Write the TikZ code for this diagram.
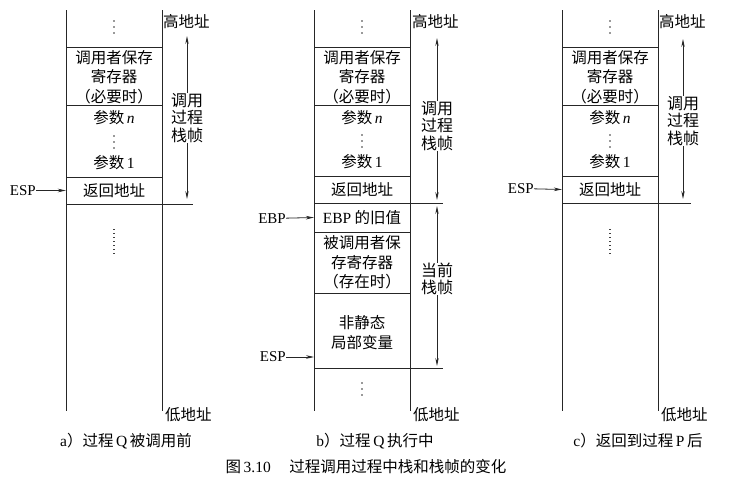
\documentclass[tikz,border=0pt]{standalone}
\usepackage{fontspec}
\setmainfont{Liberation Serif}
\newfontfamily\cjk{Noto Sans CJK SC}
\usetikzlibrary{arrows.meta}
\begin{document}
\begin{tikzpicture}[x=1pt,y=-1pt,
  stk/.style={line width=0.8pt, draw=black!85},
  cell/.style={minimum width=96pt, minimum height=#1, inner sep=0pt, align=center,
    font=\fontsize{15.5}{19.5}\selectfont\cjk},
  ctext/.style={inner sep=0pt, align=center, font=\fontsize{15.5}{19.5}\selectfont\cjk},
  side/.style={inner sep=0pt, align=center, font=\fontsize{16}{17.5}\selectfont\cjk},
  addr/.style={inner sep=0pt, anchor=west, font=\fontsize{15.5}{17}\selectfont\cjk},
  reg/.style={inner sep=0pt, font=\fontsize{15}{17}\selectfont},
  ptr/.style={line width=0.8pt, draw=black!85, -{Stealth[length=8pt,width=3.6pt]}},
  farrow/.style={line width=0.8pt, draw=black!85, -{Stealth[length=8pt,width=3.4pt]}},
  captxt/.style={inner sep=0pt, font=\fontsize{15.5}{17}\selectfont},
  dotcol/.style={line width=1.2pt, draw=black!75, dash pattern=on 1pt off 3pt},
  dt/.style={fill=black!80},
]
\useasboundingbox (0,0) rectangle (729,501);

% ================= panel a =================
\draw[stk] (66,10) -- (66,411);
\draw[stk] (162,10) -- (162,411);
\draw[stk] (66,47) -- (162,47);
\draw[stk] (66,105) -- (162,105);
\draw[stk] (66,177) -- (162,177);
\draw[stk] (66,204) -- (193,204);
\foreach \yy in {21,27,33} \fill[dt] (114,\yy) circle (0.9);
\node[ctext] (savA) at (114,77) {调用者保存\\寄存器\\（必要时）};
\node[ctext] (pnA) at (114,118) {参数\,{\rmfamily\itshape n}};
\foreach \yy in {136,142,148} \fill[dt] (114,\yy) circle (0.9);
\node[ctext] (p1A) at (114,163) {参数\,\textrm{1}};
\node[cell=27pt] (retA) at (114,190.5) {返回地址};
\draw[dotcol] (114,229) -- (114,254);
\node[reg, anchor=east] (espA) at (36,190.5) {ESP};
\draw[ptr] (espA) -- (retA.west);
\node[addr] (hiA) at (163,22) {高地址};
\node[addr] (loA) at (165,415) {低地址};
\node[side] (frA) at (187,118) {调用\\过程\\栈帧};
\coordinate (frAt) at (187,36);
\coordinate (frAb) at (187,199);
\draw[farrow] (frA.north) -- (frAt);
\draw[farrow] (frA.south) -- (frAb);
\node[captxt] (capA) at (126,441) {a{\cjk ）过程}\,Q\,{\cjk 被调用前}};

% ================= panel b =================
\draw[stk] (314,10) -- (314,411);
\draw[stk] (410,10) -- (410,411);
\draw[stk] (314,47) -- (410,47);
\draw[stk] (314,105) -- (410,105);
\draw[stk] (314,176) -- (410,176);
\draw[stk] (314,203) -- (443,203);
\draw[stk] (314,232) -- (410,232);
\draw[stk] (314,293) -- (410,293);
\draw[stk] (314,368) -- (443,368);
\foreach \yy in {21,27,33} \fill[dt] (362,\yy) circle (0.9);
\node[ctext] (savB) at (362,77) {调用者保存\\寄存器\\（必要时）};
\node[ctext] (pnB) at (362,118) {参数\,{\rmfamily\itshape n}};
\foreach \yy in {135,141,147} \fill[dt] (362,\yy) circle (0.9);
\node[ctext] (p1B) at (362,162) {参数\,\textrm{1}};
\node[cell=27pt] (retB) at (362,189.5) {返回地址};
\node[cell=29pt] (ebpB) at (362,217.5) {\textrm{EBP}~的旧值};
\node[ctext] (calB) at (362,262.5) {被调用者保\\存寄存器\\（存在时）};
\node[ctext] (locB) at (362,332.5) {非静态\\局部变量};
\foreach \yy in {383,389,395} \fill[dt] (362,\yy) circle (0.9);
\node[reg, anchor=east] (ebpL) at (286,218.5) {EBP};
\draw[ptr] (ebpL) -- (ebpB.west);
\node[reg, anchor=east] (espB) at (286,357) {ESP};
\coordinate (espBt) at (314,357);
\draw[ptr] (espB) -- (espBt);
\node[addr] (hiB) at (412,22) {高地址};
\node[addr] (loB) at (413,415) {低地址};
\node[side] (frB) at (437,126) {调用\\过程\\栈帧};
\coordinate (frBt) at (437,38);
\coordinate (frBb) at (437,200);
\draw[farrow] (frB.north) -- (frBt);
\draw[farrow] (frB.south) -- (frBb);
\node[side] (cfB) at (437,279) {当前\\栈帧};
\coordinate (cfBt) at (437,206);
\coordinate (cfBb) at (437,366);
\draw[farrow] (cfB.north) -- (cfBt);
\draw[farrow] (cfB.south) -- (cfBb);
\node[captxt] (capB) at (375,441) {b{\cjk ）过程}\,Q\,{\cjk 执行中}};

% ================= panel c =================
\draw[stk] (562,10) -- (562,411);
\draw[stk] (658,10) -- (658,411);
\draw[stk] (562,47) -- (658,47);
\draw[stk] (562,105) -- (658,105);
\draw[stk] (562,176) -- (658,176);
\draw[stk] (562,203) -- (691,203);
\foreach \yy in {21,27,33} \fill[dt] (610,\yy) circle (0.9);
\node[ctext] (savC) at (610,77) {调用者保存\\寄存器\\（必要时）};
\node[ctext] (pnC) at (610,118) {参数\,{\rmfamily\itshape n}};
\foreach \yy in {135,141,147} \fill[dt] (610,\yy) circle (0.9);
\node[ctext] (p1C) at (610,162) {参数\,\textrm{1}};
\node[cell=27pt] (retC) at (610,189.5) {返回地址};
\draw[dotcol] (610,229) -- (610,256);
\node[reg, anchor=east] (espC) at (534,188.5) {ESP};
\draw[ptr] (espC) -- (retC.west);
\node[addr] (hiC) at (659,22) {高地址};
\node[addr] (loC) at (661,415) {低地址};
\node[side] (frC) at (683,121) {调用\\过程\\栈帧};
\coordinate (frCt) at (683,39);
\coordinate (frCb) at (683,199);
\draw[farrow] (frC.north) -- (frCt);
\draw[farrow] (frC.south) -- (frCb);
\node[captxt] (capC) at (638,441) {c{\cjk ）返回到过程}\,P\,{\cjk 后}};

% ================= caption =================
\node[captxt] (fig) at (366,467) {{\cjk 图}\,3.10\hspace{1.2em}{\cjk 过程调用过程中栈和栈帧的变化}};
\end{tikzpicture}
\end{document}
